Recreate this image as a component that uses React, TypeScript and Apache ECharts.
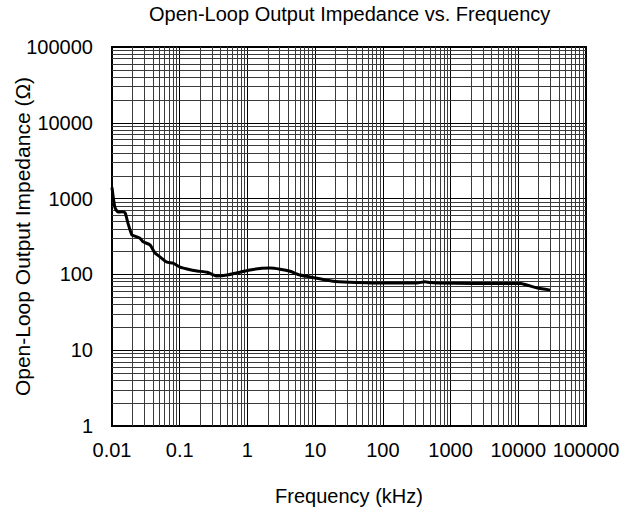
import React, { useEffect, useRef } from 'react';
import * as echarts from 'echarts';

const chartTitle = 'Open-Loop Output Impedance vs. Frequency';
const xAxisName = 'Frequency (kHz)';
const yAxisName = 'Open-Loop Output Impedance (Ω)';

// Frequency (kHz) and open-loop output impedance (Ω)
const freqKHz = [
  0.01, 0.0105, 0.0111, 0.0123, 0.014, 0.0156, 0.0172, 0.0197, 0.0219, 0.0259,
  0.0287, 0.0364, 0.0431, 0.0512, 0.0649, 0.0795, 0.101, 0.128, 0.18, 0.254,
  0.357, 0.5, 0.78, 1.09, 1.54, 2.16, 3.03, 4.26, 5.97, 10.6,
  18.5, 33, 101, 319, 418, 497, 630, 2140, 10700, 13600,
  19200, 29500,
];
const impedanceOhm = [
  1400, 1000, 755, 665, 670, 650, 475, 330, 320, 300,
  270, 245, 192, 170, 145, 141, 125, 118, 111, 107,
  95, 98, 107, 114, 120, 121, 117, 110, 98, 89,
  81, 79, 77, 77, 80, 78, 77, 76, 76, 72,
  66, 62,
];

const xDecades = [0.01, 0.1, 1, 10, 100, 1000, 10000];
const yDecades = [1, 10, 100, 1000, 10000];
const minorMultipliers = [2, 3, 4, 5, 6, 7, 8, 9];

const FONT = '"Liberation Sans", Arial, sans-serif';

function fmt(v: number): string {
  return String(+v.toPrecision(6));
}

export default function App() {
  const ref = useRef<HTMLDivElement>(null);

  useEffect(() => {
    document.body.style.margin = '0';
    if (!ref.current) return;
    const chart = echarts.init(ref.current, null, { renderer: 'svg' });

    const xMinor: any[] = [];
    xDecades.forEach((d) => minorMultipliers.forEach((m) => xMinor.push({ xAxis: +(d * m).toPrecision(6) })));
    const yMinor: any[] = [];
    yDecades.forEach((d) => minorMultipliers.forEach((m) => yMinor.push({ yAxis: +(d * m).toPrecision(6) })));

    const data = freqKHz.map((f, i) => [f, impedanceOhm[i]]);

    chart.setOption({
      animation: false,
      title: {
        text: chartTitle,
        left: 149,
        top: 4,
        padding: 0,
        textStyle: { fontFamily: FONT, fontSize: 20, fontWeight: 'normal', color: '#000' },
      },
      grid: {
        left: 112,
        top: 47,
        right: 49,
        bottom: 85,
        containLabel: false,
        outerBoundsMode: 'none',
        show: true,
        borderColor: '#000',
        borderWidth: 2,
        backgroundColor: 'transparent',
      },
      xAxis: {
        type: 'log',
        min: 0.01,
        max: 100000,
        splitNumber: 7,
        name: xAxisName,
        nameLocation: 'middle',
        nameGap: 60,
        nameMoveOverlap: false,
        nameTruncate: { maxWidth: 600 },
        nameTextStyle: { fontFamily: FONT, fontSize: 20, color: '#000' },
        axisLine: { show: true, lineStyle: { color: '#000', width: 2 } },
        axisTick: { show: false },
        axisLabel: {
          fontFamily: FONT,
          fontSize: 20,
          color: '#000',
          margin: 14,
          hideOverlap: false,
          showMinLabel: true,
          showMaxLabel: true,
          formatter: (v: number) => fmt(v),
        },
        splitLine: { show: true, lineStyle: { color: '#000', width: 1 } },
      },
      yAxis: {
        type: 'log',
        min: 1,
        max: 100000,
        splitNumber: 5,
        name: yAxisName,
        nameLocation: 'middle',
        nameGap: 79,
        nameMoveOverlap: false,
        nameTruncate: { maxWidth: 600 },
        nameTextStyle: { fontFamily: FONT, fontSize: 21, color: '#000' },
        axisLine: { show: true, lineStyle: { color: '#000', width: 2 } },
        axisTick: { show: false },
        axisLabel: {
          fontFamily: FONT,
          fontSize: 20,
          color: '#000',
          margin: 19,
          showMinLabel: true,
          showMaxLabel: true,
          formatter: (v: number) => fmt(v),
        },
        splitLine: { show: true, lineStyle: { color: '#000', width: 1 } },
      },
      series: [
        {
          type: 'line',
          data: [[1, 1]],
          showSymbol: false,
          symbol: 'none',
          lineStyle: { opacity: 0 },
          silent: true,
          z: 1,
          markLine: {
            silent: true,
            symbol: ['none', 'none'],
            label: { show: false },
            emphasis: { disabled: true },
            lineStyle: { type: 'solid', color: '#3a3a3a', width: 1 },
            data: [...xMinor, ...yMinor],
          },
        },
        {
          type: 'line',
          data,
          showSymbol: false,
          symbol: 'none',
          smooth: 0.2,
          lineStyle: { color: '#000', width: 3 },
          z: 5,
        },
      ],
    });

    return () => chart.dispose();
  }, []);

  return <div ref={ref} style={{ width: 635, height: 511 }} />;
}
